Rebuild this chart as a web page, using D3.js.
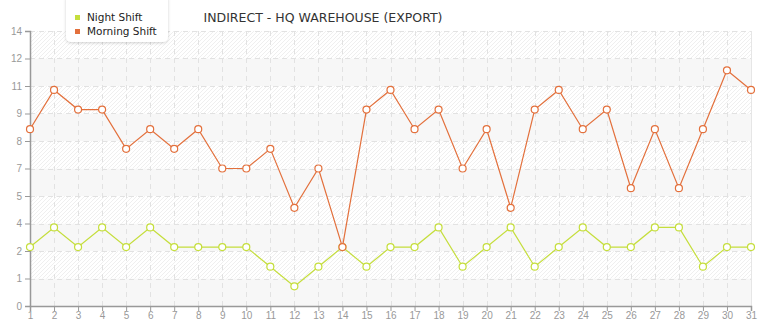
<!DOCTYPE html>
<html>
<head>
<meta charset="utf-8">
<script src="https://cdn.jsdelivr.net/npm/d3@7"></script>
<style>
  body { margin: 0; background: #fff; }
  svg { display: block; font-family: "DejaVu Sans", Verdana, sans-serif; }
</style>
</head>
<body>
<div id="chart"></div>
<script>
// chart data
var days = d3.range(1, 32);
var nightShift = [3, 4, 3, 4, 3, 4, 3, 3, 3, 3, 2, 1, 2, 3, 2, 3, 3, 4, 2, 3, 4, 2, 3, 4, 3, 3, 4, 4, 2, 3, 3];
var morningShift = [9, 11, 10, 10, 8, 9, 8, 9, 7, 7, 8, 5, 7, 3, 10, 11, 9, 10, 7, 9, 5, 10, 11, 9, 10, 6, 9, 6, 9, 12, 11];
var seriesNames = ["Night Shift", "Morning Shift"];
var colors = ["#c5de3c", "#e3703c"];
var yMax = 14;
var yTicks = d3.range(0, 11).map(function(i) { return i * yMax / 10; });

var w = 765, h = 320;
var margin = {top: 31, right: 14, bottom: 14, left: 30};
var iw = w - margin.left - margin.right;
var ih = h - margin.top - margin.bottom;

var svg = d3.select("#chart").append("svg")
    .attr("width", w)
    .attr("height", h);

var defs = svg.append("defs");
var pat = defs.append("pattern")
    .attr("id", "hatch")
    .attr("patternUnits", "userSpaceOnUse")
    .attr("width", 4)
    .attr("height", 4);
pat.append("rect").attr("width", 4).attr("height", 4).attr("fill", "#fff");
pat.append("path")
    .attr("d", "M-1,1 l2,-2 M0,4 l4,-4 M3,5 l2,-2")
    .attr("stroke", "#efefef")
    .attr("stroke-width", 1);

var filt = defs.append("filter").attr("id", "shadow")
    .attr("x", "-20%").attr("y", "-20%").attr("width", "140%").attr("height", "150%");
filt.append("feDropShadow")
    .attr("dx", 0).attr("dy", 1).attr("stdDeviation", 1.5)
    .attr("flood-color", "#000").attr("flood-opacity", 0.18);

var g = svg.append("g")
    .attr("transform", "translate(" + margin.left + "," + margin.top + ")");

var x = d3.scaleLinear().domain([1, 31]).range([0, iw]);
var y = d3.scaleLinear().domain([0, yMax]).range([ih, 0]);

// alternating background bands
var bands = d3.range(10).map(function(i) { return [yTicks[i], yTicks[i + 1]]; });
g.selectAll(".band")
    .data(bands)
    .enter().append("rect")
    .attr("class", "band")
    .attr("x", 0)
    .attr("width", iw)
    .attr("y", function(d) { return y(d[1]); })
    .attr("height", function(d) { return y(d[0]) - y(d[1]); })
    .attr("fill", function(d, i) { return i % 2 === 0 ? "#f7f7f7" : "url(#hatch)"; });

// grid lines
g.selectAll(".hgrid")
    .data(yTicks.slice(1))
    .enter().append("line")
    .attr("x1", 0).attr("x2", iw)
    .attr("y1", function(d) { return Math.round(y(d)) + 0.5; })
    .attr("y2", function(d) { return Math.round(y(d)) + 0.5; })
    .attr("stroke", "#e2e2e2")
    .attr("stroke-dasharray", "5,4");

g.selectAll(".vgrid")
    .data(days.slice(1))
    .enter().append("line")
    .attr("x1", function(d) { return Math.round(x(d)) + 0.5; })
    .attr("x2", function(d) { return Math.round(x(d)) + 0.5; })
    .attr("y1", 0).attr("y2", ih)
    .attr("stroke", function(d) { return d === 31 ? "#e6e6e6" : "#e2e2e2"; })
    .attr("stroke-dasharray", function(d) { return d === 31 ? null : "5,4"; });

// axes
var yAxis = d3.axisLeft(y)
    .tickValues(yTicks)
    .tickFormat(function(d) { return Math.floor(d + 1e-9); })
    .tickSize(5);
var xAxis = d3.axisBottom(x)
    .tickValues(days)
    .tickFormat(d3.format("d"))
    .tickSize(5);

var ya = g.append("g").call(yAxis);
var xa = g.append("g").attr("transform", "translate(0," + ih + ")").call(xAxis);
[ya, xa].forEach(function(a) {
    a.select(".domain").attr("stroke", "#999").attr("stroke-width", 1.5);
    a.selectAll(".tick line").attr("stroke", "#999");
    a.selectAll(".tick text").attr("fill", "#999").style("font-size", "10px");
});
ya.selectAll(".tick text").attr("x", -8);
xa.selectAll(".tick text").attr("y", 6);

// series
var series = [nightShift, morningShift];
var line = d3.line()
    .x(function(d, i) { return x(days[i]); })
    .y(function(d) { return y(d); });

series.forEach(function(s, k) {
    g.append("path")
        .datum(s)
        .attr("fill", "none")
        .attr("stroke", colors[k])
        .attr("stroke-width", 1.2)
        .attr("d", line);
    g.selectAll(".pt" + k)
        .data(s)
        .enter().append("circle")
        .attr("cx", function(d, i) { return x(days[i]); })
        .attr("cy", function(d) { return y(d); })
        .attr("r", 3.5)
        .attr("fill", "#fff")
        .attr("stroke", colors[k])
        .attr("stroke-width", 1.2);
});

// title
svg.append("text")
    .attr("x", 323)
    .attr("y", 22)
    .attr("text-anchor", "middle")
    .attr("fill", "#333")
    .style("font-size", "12.5px")
    .text("INDIRECT - HQ WAREHOUSE (EXPORT)");

// legend
var lg = svg.append("g").attr("transform", "translate(66,0)");
lg.append("rect")
    .attr("x", 0).attr("y", -6)
    .attr("width", 102).attr("height", 48)
    .attr("rx", 5)
    .attr("fill", "#fff")
    .attr("filter", "url(#shadow)");
seriesNames.forEach(function(n, i) {
    lg.append("rect")
        .attr("x", 9).attr("y", 15 + i * 14)
        .attr("width", 5).attr("height", 5)
        .attr("fill", colors[i]);
    lg.append("text")
        .attr("x", 21).attr("y", 21 + i * 14)
        .attr("fill", "#222")
        .style("font-size", "10.5px")
        .text(n);
});
</script>
</body>
</html>
